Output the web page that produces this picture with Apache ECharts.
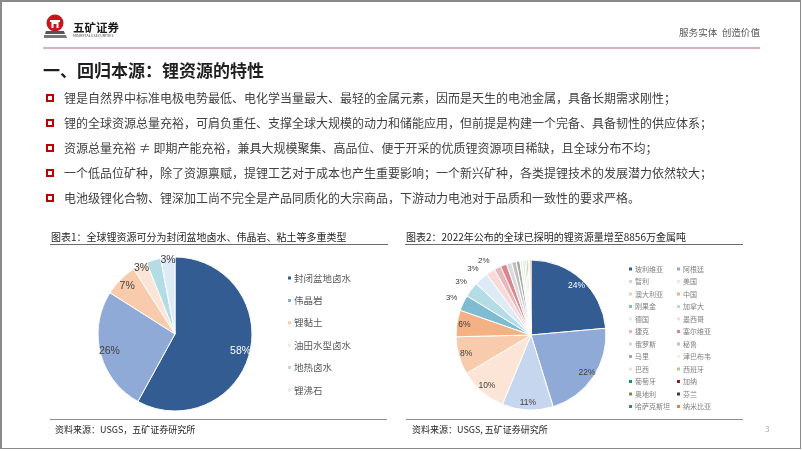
<!DOCTYPE html>
<html><head><meta charset="utf-8">
<script src="https://cdn.jsdelivr.net/npm/echarts@6/dist/echarts.min.js"></script>
<style>
html,body{margin:0;padding:0;background:#fff;}
body{width:802px;height:451px;position:relative;overflow:hidden;font-family:"Noto Sans CJK SC","Noto Sans",sans-serif;}
#frame{position:absolute;left:0;top:0;width:798px;height:446px;border:1px solid #8a8a8a;border-top-width:2px;border-left-width:2px;}
#chart{position:absolute;left:0;top:0;width:802px;height:451px;}
.t{position:absolute;white-space:nowrap;line-height:1;}
.box{position:absolute;width:4px;height:4px;border:2px solid #C00000;background:#fff;}
.rule{position:absolute;height:1px;}
</style></head>
<body>
<div id="frame"></div>
<div id="chart"></div>
<svg style="position:absolute;left:44px;top:14px" width="24" height="26" viewBox="0 0 24 26">
  <circle cx="11" cy="9" r="8.5" fill="#C8161D"/>
  <rect x="6" y="6" width="10" height="2" fill="#fff"/>
  <rect x="7.5" y="8" width="7" height="6" fill="#fff"/>
  <rect x="9.5" y="10" width="3" height="4" fill="#C8161D"/>
  <path d="M2 17 L20 17 L21 20 L1 20 Z" fill="#555"/>
  <path d="M0 21 L22 21 L23 24 L-1 24 Z" fill="#777"/>
</svg>
<div class="t" style="left:73px;top:22px;font-size:11.5px;font-weight:bold;color:#1a1a1a;">五矿证券</div>
<div class="t" style="left:73px;top:34px;font-size:8px;color:#444;transform:scale(0.45);transform-origin:left top;">MINMETALS SECURITIES</div>
<div class="t" style="left:679px;top:28px;font-size:9.6px;color:#595959;">服务实体&nbsp;&nbsp;创造价值</div>
<div style="position:absolute;left:43px;top:47px;width:717px;height:2px;background:#DCB0BC;"></div>

<div class="t" style="left:43px;top:61px;font-size:17px;font-weight:bold;color:#1f1f1f;">一、回归本源：锂资源的特性</div>

<div class="box" style="left:46px;top:94px;"></div>
<div class="t" style="left:64px;top:92px;font-size:12px;color:#404040;">锂是自然界中标准电极电势最低、电化学当量最大、最轻的金属元素，因而是天生的电池金属，具备长期需求刚性；</div>
<div class="box" style="left:46px;top:119px;"></div>
<div class="t" style="left:64px;top:117px;font-size:12px;color:#404040;">锂的全球资源总量充裕，可肩负重任、支撑全球大规模的动力和储能应用，但前提是构建一个完备、具备韧性的供应体系；</div>
<div class="box" style="left:46px;top:144px;"></div>
<div class="t" style="left:64px;top:142px;font-size:12px;color:#404040;">资源总量充裕 ≠ 即期产能充裕，兼具大规模聚集、高品位、便于开采的优质锂资源项目稀缺，且全球分布不均；</div>
<div class="box" style="left:46px;top:168.5px;"></div>
<div class="t" style="left:64px;top:166.5px;font-size:12px;color:#404040;">一个低品位矿种，除了资源禀赋，提锂工艺对于成本也产生重要影响；一个新兴矿种，各类提锂技术的发展潜力依然较大；</div>
<div class="box" style="left:46px;top:193.5px;"></div>
<div class="t" style="left:64px;top:191.5px;font-size:12px;color:#404040;">电池级锂化合物、锂深加工尚不完全是产品同质化的大宗商品，下游动力电池对于品质和一致性的要求严格。</div>

<div class="t" style="left:51px;top:232px;font-size:10px;color:#262626;">图表1：全球锂资源可分为封闭盆地卤水、伟晶岩、粘土等多重类型</div>
<div class="rule" style="left:50px;top:244px;width:338px;background:#6d6d6d;"></div>
<div class="t" style="left:406px;top:232px;font-size:10px;color:#262626;">图表2：2022年公布的全球已探明的锂资源量增至8856万金属吨</div>
<div class="rule" style="left:405px;top:244px;width:338px;background:#6d6d6d;"></div>

<div class="rule" style="left:50px;top:419px;width:337px;background:#8c8c8c;"></div>
<div class="t" style="left:55px;top:424.5px;font-size:9px;color:#262626;">资料来源：USGS，五矿证券研究所</div>
<div class="rule" style="left:406px;top:419px;width:337px;background:#8c8c8c;"></div>
<div class="t" style="left:412px;top:424.5px;font-size:9px;color:#262626;">资料来源：USGS, 五矿证券研究所</div>
<div class="t" style="left:765px;top:425px;font-size:8px;color:#a6a6a6;">3</div>

<script>
// ---- data ----
const types1 = ['封闭盆地卤水','伟晶岩','锂黏土','油田水型卤水','地热卤水','锂沸石'];
const share1 = [58, 26, 7, 3, 3, 3];
const countries2 = ['玻利维亚','阿根廷','智利','美国','澳大利亚','中国','刚果金','加拿大','德国','墨西哥','捷克','塞尔维亚','俄罗斯','秘鲁','马里','津巴布韦','巴西','西班牙','葡萄牙','加纳','奥地利','芬兰','哈萨克斯坦','纳米比亚'];
const resources2 = [21, 19.3, 9.8, 9.1, 7.3, 5.1, 3.0, 2.9, 2.7, 1.7, 1.3, 1.2, 1.0, 0.88, 0.7, 0.5, 0.47, 0.3, 0.27, 0.18, 0.06, 0.068, 0.05, 0.23];

// ---- styles ----
const colors1 = ['#325C92','#8FAAD6','#F8CBAD','#FBE5D6','#B4DCE4','#DDEBF7'];
const colors2 = ['#325C92','#8FAAD6','#C6D6EF','#FCE4D6','#F8CBAD','#F4B183','#7FBCD2','#B4DCE6','#DDEBF7','#F9D9D9','#EBB5BA','#D9868E','#D9D9D9','#BFBFBF','#A6A6A6','#EEF2E0','#DDEBD4','#A9D18E','#1A8A7C','#8B2323','#7F8C3F','#3A3A5A','#3E7D98','#F07F1D'];
const FONT = '"Noto Sans CJK SC", "Noto Sans", sans-serif';
const C1 = [175, 334], R1 = 77;
const C2 = [531, 335], R2 = 75;

function mainPie(center, r, names, vals, colors) {
  return {
    type: 'pie', center: center, radius: [0, r], startAngle: 90, clockwise: true,
    percentPrecision: 0, animation: false, silent: true,
    label: {show: false}, labelLine: {show: false},
    itemStyle: {borderColor: '#fff', borderWidth: 1},
    data: names.map((n, i) => ({name: n, value: vals[i], itemStyle: {color: colors[i]}}))
  };
}
function labelRing(center, r0, r1, names, vals, shown, white, fs) {
  return {
    type: 'pie', center: center, radius: [r0, r1], startAngle: 90, clockwise: true,
    percentPrecision: 0, animation: false, silent: true,
    itemStyle: {color: 'rgba(0,0,0,0)', borderWidth: 0},
    labelLine: {show: false},
    label: {position: 'inside', formatter: '{d}%', fontSize: fs, fontFamily: 'Arial, "Liberation Sans", sans-serif', color: '#404040'},
    data: names.map((n, i) => ({
      name: n, value: vals[i],
      label: {show: shown.indexOf(i) >= 0, color: white.indexOf(i) >= 0 ? '#ffffff' : '#404040'}
    }))
  };
}

const chart = echarts.init(document.getElementById('chart'));
const legendBase = {orient: 'vertical', icon: 'rect', itemWidth: 5, itemHeight: 5, selectedMode: false, padding: 0};
chart.setOption({
  animation: false,
  textStyle: {fontFamily: FONT},
  legend: [
    Object.assign({}, legendBase, {left: 286, top: 272, itemGap: 10.4, data: types1,
      textStyle: {fontSize: 9.5, lineHeight: 12, color: '#595959', fontFamily: FONT, padding: [0, 0, 0, -3]}}),
    Object.assign({}, legendBase, {left: 627, top: 264.5, itemGap: 3.5, data: countries2.filter((c, i) => i % 2 === 0),
      textStyle: {fontSize: 7, lineHeight: 9, color: '#808080', fontFamily: FONT, padding: [0, 0, 0, -3]}}),
    Object.assign({}, legendBase, {left: 675, top: 264.5, itemGap: 3.5, data: countries2.filter((c, i) => i % 2 === 1),
      textStyle: {fontSize: 7, lineHeight: 9, color: '#808080', fontFamily: FONT, padding: [0, 0, 0, -3]}})
  ],
  series: [
    mainPie(C1, R1, types1, share1, colors1),
    mainPie(C2, R2, countries2, resources2, colors2),
    labelRing(C1, R1 * 0.68, R1, types1, share1, [0, 1, 2], [0], 10.5),
    labelRing(C1, R1 * 0.8, R1 * 1.04, types1, share1, [3, 4, 5], [], 10.5),
    labelRing(C2, R2 * 0.72, R2, countries2, resources2, [0, 1, 2, 3, 4, 5], [0], 8.5),
    labelRing(C2, R2 * 0.9, R2 * 1.36, countries2, resources2, [6, 7, 8, 9], [], 8)
  ]
});
</script>
</body></html>
